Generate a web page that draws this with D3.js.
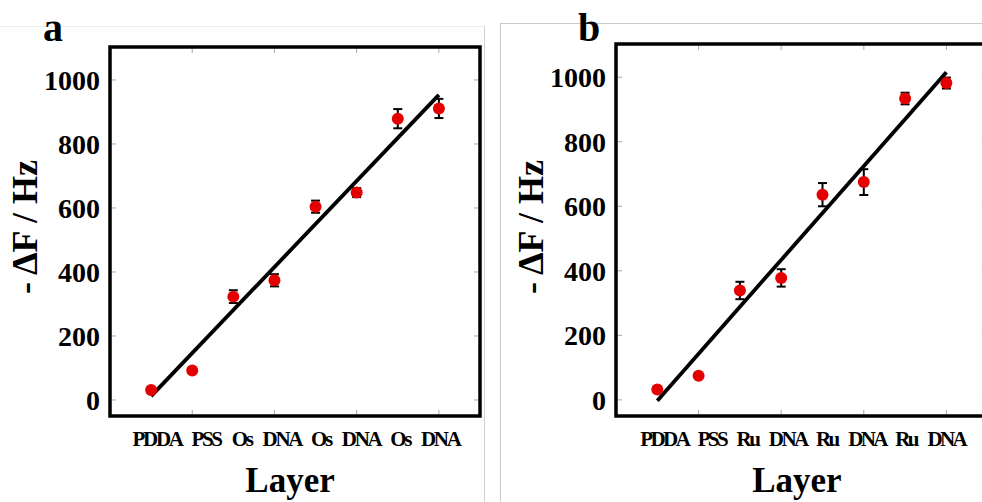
<!DOCTYPE html>
<html>
<head>
<meta charset="utf-8">
<script src="https://cdn.jsdelivr.net/npm/d3@7"></script>
<style>
  html, body { margin: 0; padding: 0; background: #fff; }
  svg { display: block; }
  text { font-family: "Liberation Serif", "Times New Roman", serif; font-weight: bold; fill: #000; }
</style>
</head>
<body>
<svg id="chart" width="982" height="502"></svg>
<script>
// ---- data ----
const layerIndex = [1, 2, 3, 4, 5, 6, 7, 8];
const layersA = ["PDDA", "PSS", "Os", "DNA", "Os", "DNA", "Os", "DNA"];
const layersB = ["PDDA", "PSS", "Ru", "DNA", "Ru", "DNA", "Ru", "DNA"];
const valuesA = [31, 92, 323, 374, 604, 648, 879, 911];
const errorsA = [8, 6, 20, 19, 19, 14, 30, 30];
const valuesB = [32, 75, 339, 378, 636, 675, 934, 982];
const errorsB = [6, 6, 27, 27, 36, 40, 18, 17];
const yTicks = [0, 200, 400, 600, 800, 1000];
const xTicks = [2, 4, 6, 8];
const xDomain = [0, 9];
const yDomain = [-50, 1103];
const yTitle = "- \u0394F / Hz";
const xTitle = "Layer";

const svg = d3.select("#chart");

// faint image borders
svg.append("line").attr("x1", 0).attr("x2", 484).attr("y1", 26.5).attr("y2", 26.5)
  .attr("stroke", "#ececec").attr("stroke-width", 1);
svg.append("line").attr("x1", 484.5).attr("x2", 484.5).attr("y1", 26).attr("y2", 502)
  .attr("stroke", "#d2d2d2").attr("stroke-width", 1);
svg.append("line").attr("x1", 500.5).attr("x2", 982).attr("y1", 23.5).attr("y2", 23.5)
  .attr("stroke", "#cacaca").attr("stroke-width", 1);
svg.append("line").attr("x1", 500.5).attr("x2", 500.5).attr("y1", 23).attr("y2", 502)
  .attr("stroke", "#cacaca").attr("stroke-width", 1);

function panel(cfg) {
  const g = svg.append("g");
  const x = d3.scaleLinear().domain(xDomain).range([cfg.left, cfg.right]);
  const y = d3.scaleLinear().domain(yDomain).range([cfg.bottom, cfg.top]);
  const [x0, x1] = x.range();
  const [yb, yt] = y.range();

  // inner ticks (gray)
  const tickLen = 6;
  const ticks = g.append("g").attr("stroke", "#a8a8a8").attr("stroke-width", 1);
  xTicks.forEach(t => {
    ticks.append("line").attr("x1", x(t)).attr("x2", x(t)).attr("y1", yb).attr("y2", yb - tickLen);
    ticks.append("line").attr("x1", x(t)).attr("x2", x(t)).attr("y1", yt).attr("y2", yt + tickLen);
  });
  yTicks.forEach(t => {
    ticks.append("line").attr("x1", x0).attr("x2", x0 + tickLen).attr("y1", y(t)).attr("y2", y(t));
    ticks.append("line").attr("x1", x1).attr("x2", x1 - tickLen).attr("y1", y(t)).attr("y2", y(t));
  });

  // frame
  g.append("rect").attr("x", x0).attr("y", yt).attr("width", x1 - x0).attr("height", yb - yt)
    .attr("fill", "none").attr("stroke", "#000").attr("stroke-width", 3.5);

  // y tick labels
  g.append("g").selectAll("text").data(yTicks).join("text")
    .attr("x", x0 - 10).attr("y", d => y(d)).attr("dy", "0.35em")
    .attr("text-anchor", "end").attr("font-size", 28).text(d => d);

  // x labels (single condensed line, as in the original)
  g.append("text")
    .attr("x", x(4.5) + 1).attr("y", 446)
    .attr("text-anchor", "middle").attr("font-size", 21)
    .attr("letter-spacing", -2.4).attr("word-spacing", 8)
    .attr("textLength", cfg.labelWidth).attr("lengthAdjust", "spacing")
    .text(cfg.labels.join(" "));

  // axis titles
  g.append("text").attr("x", x(4.5) - 5).attr("y", 492)
    .attr("text-anchor", "middle").attr("font-size", 35).text(xTitle);
  g.append("text")
    .attr("transform", `translate(${x0 - 86},${227}) rotate(-90)`)
    .attr("text-anchor", "middle").attr("dy", "0.35em")
    .attr("font-size", 36).text(yTitle);

  // panel letter
  g.append("text").attr("x", cfg.letterX).attr("y", 41).attr("font-size", 40).text(cfg.letter);

  // linear fit
  const mx = d3.mean(layerIndex), my = d3.mean(cfg.values);
  const sxy = d3.sum(layerIndex, (d, i) => (d - mx) * (cfg.values[i] - my));
  const sxx = d3.sum(layerIndex, d => (d - mx) * (d - mx));
  const slope = sxy / sxx, icpt = my - slope * mx;
  const xs = d3.extent(layerIndex);
  g.append("line")
    .attr("x1", x(xs[0])).attr("y1", y(icpt + slope * xs[0]))
    .attr("x2", x(xs[1])).attr("y2", y(icpt + slope * xs[1]))
    .attr("stroke", "#000").attr("stroke-width", 3.8);

  // error bars
  const eb = g.append("g").attr("stroke", "#000").attr("stroke-width", 2);
  layerIndex.forEach((li, i) => {
    const v = cfg.values[i], e = cfg.errors[i];
    eb.append("line").attr("x1", x(li)).attr("x2", x(li)).attr("y1", y(v - e)).attr("y2", y(v + e));
    eb.append("line").attr("x1", x(li) - 4.5).attr("x2", x(li) + 4.5).attr("y1", y(v - e)).attr("y2", y(v - e));
    eb.append("line").attr("x1", x(li) - 4.5).attr("x2", x(li) + 4.5).attr("y1", y(v + e)).attr("y2", y(v + e));
  });

  // points
  g.append("g").selectAll("circle").data(layerIndex).join("circle")
    .attr("cx", d => x(d)).attr("cy", (d, i) => y(cfg.values[i]))
    .attr("r", 6).attr("fill", "#e40000");
}

panel({ left: 110, right: 480, top: 47, bottom: 416, values: valuesA, errors: errorsA,
        labels: layersA, labelWidth: 327, letter: "a", letterX: 43 });
panel({ left: 616, right: 987.7, top: 44, bottom: 416, values: valuesB, errors: errorsB,
        labels: layersB, labelWidth: 325, letter: "b", letterX: 578 });
</script>
</body>
</html>
